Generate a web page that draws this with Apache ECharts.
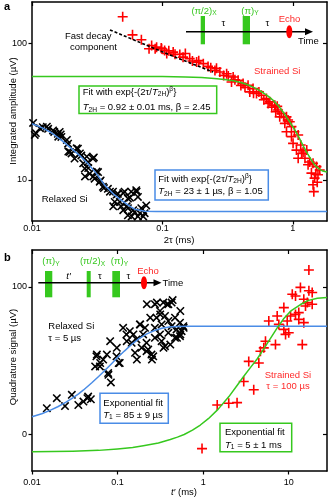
<!DOCTYPE html>
<html><head><meta charset="utf-8">
<script src="https://cdn.jsdelivr.net/npm/echarts@6/dist/echarts.min.js"></script>
<style>html,body{margin:0;padding:0;background:#fff}#c{width:335px;height:499px}</style>
</head><body><div id="c"></div>
<script>
// ---------- tick values ----------
const xTicksA = [0.01, 0.1, 1];
const yTicksA = [10, 100];
const xTicksB = [0.01, 0.1, 1, 10];
const yTicksB = [0, 100];

// ---------- panel a : spin-echo decay ----------
const strainedA = [[0.0496,156],[0.059,115],[0.069,106],[0.079,91],[0.0827,96],[0.088,91],[0.0903,93.5],[0.098,92],[0.0987,91],[0.104,88.5],[0.108,84],[0.112,88],[0.121,86],[0.125,83],[0.136,82.7],[0.144,79],[0.15,84],[0.162,77],[0.17,74],[0.183,72.7],[0.19,74.5],[0.206,70.8],[0.224,67.6],[0.235,66],[0.253,63.2],[0.26,65.5],[0.276,61.5],[0.295,58],[0.311,59.8],[0.32,57.5],[0.339,52],[0.349,56.5],[0.36,54],[0.381,53.5],[0.4,49],[0.416,50.6],[0.43,47.5],[0.454,49.2],[0.468,44],[0.496,46.5],[0.5,43],[0.527,42.8],[0.55,44],[0.575,41.6],[0.6,38.5],[0.628,39.4],[0.647,36.2],[0.667,37.2],[0.69,34],[0.728,35.2],[0.74,31.5],[0.76,34.5],[0.771,32.4],[0.794,28.9],[0.818,30.6],[0.85,29],[0.869,25.9],[0.895,28.9],[0.895,22.5],[0.92,27.4],[0.948,26.6],[0.977,24.5],[0.977,20.7],[1.005,18.5],[1.03,22.5],[1.067,16.5],[1.1,21.3],[1.1,14.4],[1.15,18],[1.17,15.6],[1.2,16],[1.24,14.4],[1.28,16.5],[1.31,12.9],[1.35,13.5],[1.39,11.2],[1.43,13.2],[1.43,9.2],[1.45,8.2],[1.47,10.3],[1.5,11],[1.52,12.5],[1.54,9.6],[1.56,10.9],[1.61,11.8]];
const relaxedA = [[0.0102,26.1],[0.0105,21.3],[0.0107,22],[0.0115,23.8],[0.0121,24.3],[0.013,24.5],[0.0133,23.6],[0.0145,23],[0.0148,22.4],[0.0158,21.7],[0.0159,20.7],[0.0163,22.4],[0.0166,21.5],[0.0168,20.6],[0.0185,19.6],[0.0189,18.4],[0.019,16.1],[0.0195,16],[0.0201,15.6],[0.0212,14.3],[0.022,17],[0.0225,16.9],[0.0233,15.6],[0.0239,15.1],[0.0247,13.2],[0.0254,12.1],[0.0255,10.6],[0.0263,14.8],[0.0269,13.5],[0.027,12.2],[0.0277,11.1],[0.0293,14.3],[0.0298,14.6],[0.0295,10.6],[0.0302,10.2],[0.0313,11.5],[0.0321,11.4],[0.0331,9.7],[0.0336,9.9],[0.035,8.9],[0.0356,8.7],[0.0382,8.6],[0.0396,8.2],[0.0418,8.2],[0.042,6.4],[0.0431,6.9],[0.0446,7.8],[0.0456,7.9],[0.0472,6.9],[0.0483,6.4],[0.0501,8],[0.0501,6],[0.0513,8.2],[0.0532,6.4],[0.0544,7.3],[0.0544,6.2],[0.0544,5.5],[0.0564,7.4],[0.0577,8.2],[0.0581,5.4],[0.0597,6],[0.0612,5.8],[0.063,8.4],[0.0634,8.2],[0.0649,7.5],[0.0649,5.4],[0.0673,5.7],[0.0689,6.2],[0.0713,5.4],[0.0731,5.7],[0.0752,6.5]];
const fitStrainedA = [[0.01,57],[0.1,57],[0.15,56.6],[0.2,56],[0.25,55.2],[0.3,54.2],[0.35,53],[0.4,51.5],[0.45,49.6],[0.5,47.5],[0.55,45.3],[0.6,43],[0.65,40.8],[0.7,38.5],[0.75,36],[0.8,33.5],[0.85,31],[0.9,28.5],[0.95,26.5],[1.0,24.5],[1.05,22.7],[1.1,21],[1.15,19.3],[1.2,17.8],[1.25,16.6],[1.3,15.5],[1.35,14.6],[1.4,13.8],[1.45,13.1],[1.5,12.6],[1.55,12.2],[1.6,12],[1.7,11.6],[1.83,11.4]];
const fitRelaxedA = [[0.01,25.7],[0.012,24],[0.014,22.2],[0.0168,19.5],[0.02,17],[0.0235,14.9],[0.0269,13.1],[0.031,11.2],[0.0361,9.15],[0.042,7.9],[0.0483,7.1],[0.055,6.5],[0.0612,6.1],[0.0731,5.9],[0.09,5.88],[1.83,5.88]];
const fastDecayA = [[0.0396,125],[0.114,82],[0.245,61.5]];

// ---------- panel b : recovery ----------
const relaxedB = [[0.0149,17.6],[0.0195,24.4],[0.0243,19.1],[0.0292,26.7],[0.0348,19.8],[0.0399,22.1],[0.0444,24.4],[0.0453,25.5],[0.0487,23.7],[0.0547,46],[0.0566,52.8],[0.0573,54],[0.0621,46],[0.0626,48.3],[0.0678,50.6],[0.075,54],[0.0776,41.5],[0.0782,40.3],[0.0819,63.1],[0.0835,35.1],[0.0971,52.8],[0.098,58.6],[0.103,48.3],[0.106,48.3],[0.116,72.2],[0.127,67.7],[0.128,63.1],[0.139,69.9],[0.146,62],[0.153,67.7],[0.16,55.2],[0.166,64.3],[0.168,50.6],[0.182,74.5],[0.184,74.5],[0.191,58.6],[0.199,67.7],[0.209,72.2],[0.218,62],[0.218,56.3],[0.22,88.2],[0.228,57.4],[0.241,79.1],[0.249,54],[0.252,50.6],[0.261,52.8],[0.273,88.2],[0.273,72.2],[0.273,65.4],[0.285,79.1],[0.288,89.3],[0.313,83.6],[0.313,67.7],[0.315,81.3],[0.327,74.5],[0.327,63.1],[0.342,89.3],[0.344,58.6],[0.358,80.2],[0.358,59.7],[0.378,88.2],[0.392,88.2],[0.392,76.8],[0.392,68.8],[0.413,60.8],[0.428,89.3],[0.428,73.3],[0.44,91],[0.469,79.1],[0.469,65.4],[0.489,71.1],[0.494,65.4],[0.536,75.7],[0.536,66.5],[0.541,83.6],[0.541,67.7],[0.56,69.9],[0.586,73.3],[0.592,72.2]];
const strainedB = [[0.97,-9.8],[1.46,19.8],[1.99,21],[2.49,21.4],[2.98,35.7],[3.41,49.4],[3.9,30.1],[4.47,48.3],[4.67,56.3],[5.11,58.6],[5.35,63.1],[5.85,76.8],[7.0,60.8],[7.33,80.2],[7.66,74.5],[8.77,85.9],[8.77,71.1],[9.18,67.7],[9.6,76.8],[10.0,68.8],[10.5,80.2],[11.0,95],[12.0,93.8],[12.0,81.3],[13.1,82.5],[13.1,77.9],[13.7,99.6],[14.4,60.8],[15.0,91.6],[15.0,75.7],[15.7,87],[16.5,89.3],[17.2,111.4],[17.2,97.3],[18.8,96.2],[18.8,88.2]];
const fitRelaxedB = [[0.01,11.8],[0.013,13.9],[0.016,16],[0.02,18.6],[0.025,21.7],[0.03,24.7],[0.035,27.4],[0.04,30],[0.05,34.9],[0.06,39.1],[0.07,42.9],[0.085,47.8],[0.1,52],[0.12,56.4],[0.15,61.5],[0.18,65],[0.22,68.1],[0.27,70.4],[0.33,71.9],[0.4,72.7],[0.5,73.1],[0.7,73.3],[28,73.3]];
const fitStrainedB = [[0.01,-12],[0.03,-11.6],[0.06,-11],[0.1,-10],[0.15,-9],[0.2,-7.8],[0.3,-6],[0.413,-3.6],[0.5,-2],[0.6,-0.2],[0.75,2.7],[0.927,6.2],[1.15,10.5],[1.5,17],[2.0,25.5],[2.49,33],[3.0,39.5],[3.6,45.5],[4.27,51],[5.0,57],[6.12,65],[7.3,72],[8.77,78.5],[10.5,83.5],[13.7,88],[17,90.8],[21.6,92.2],[28,92.8]];

const FONT = '"Liberation Sans", Arial, sans-serif';
const RED = '#ff0000', RED_T = '#ff2a2a', GREEN = '#36c81e', BLUE = '#4a8ce6';
const PLUS = 'path://M0,4.2H10V5.8H0Z M4.2,0H5.8V10H4.2Z';
const CROSS = 'path://M0,1.3L1.3,0L10,8.7L8.7,10Z M8.7,0L10,1.3L1.3,10L0,8.7Z';
const FS = 9.5;

function fmt(v){ return String(+(+v).toPrecision(3)); }
function xAx(grid, pos, type, min, max, ticks, margin){
  const main = pos === 'bottom';
  return {gridIndex:grid, type:type, position:pos, min:min, max:max, logBase:10,
    axisLine:{show:true, onZero:false, lineStyle:{color:'#000', width:1.5}},
    axisTick:{show:true, inside:!main, length:main?3.5:4, customValues:ticks, lineStyle:{color:'#000', width:1.2}},
    axisLabel:{show:main, customValues:ticks, formatter:fmt, fontSize:9, fontFamily:FONT, color:'#000', margin:margin},
    splitLine:{show:false}, minorTick:{show:false}};
}
function yAx(grid, pos, type, min, max, ticks){
  const main = pos === 'left';
  return {gridIndex:grid, type:type, position:pos, min:min, max:max, logBase:10,
    axisLine:{show:true, onZero:false, lineStyle:{color:'#000', width:1.5}},
    axisTick:{show:true, inside:!main, length:main?3.5:4, customValues:ticks, lineStyle:{color:'#000', width:1.2}},
    axisLabel:{show:main, customValues:ticks, formatter:fmt, fontSize:9, fontFamily:FONT, color:'#000', margin:5},
    splitLine:{show:false}, minorTick:{show:false}};
}
function scatter(data, xi, yi, sym, color, size){
  return {type:'scatter', data:data, xAxisIndex:xi, yAxisIndex:yi, symbol:sym, symbolSize:size,
    itemStyle:{color:color, opacity:1}, z:2, silent:true};
}
function line(data, xi, yi, color, dash){
  return {type:'line', data:data, xAxisIndex:xi, yAxisIndex:yi, showSymbol:false, symbol:'none',
    smooth:false, lineStyle:{color:color, width:dash?1.6:1.5, type:dash?[3,2]:'solid', join:'round'}, z:3, silent:true};
}

function T(x, y, text, o){
  o = o || {};
  const fs = o.size || FS, col = o.color || '#000';
  const rich = {
    i:{fontStyle:'italic', fontSize:fs, fontFamily:FONT, lineHeight:12, fill:col},
    sub:{fontSize:fs*0.7, fontFamily:FONT, verticalAlign:'bottom', lineHeight:6, fill:col},
    sup:{fontSize:fs*0.7, fontFamily:FONT, verticalAlign:'top', lineHeight:6, fill:col}
  };
  return {type:'text', x:x, y:y, z:10, rotation:o.rot||0, silent:true,
    style:{text:text, fill:col, fontSize:fs, fontWeight:o.bold?'bold':'normal',
      fontStyle:o.italic?'italic':'normal', fontFamily:FONT,
      align:o.align||'left', verticalAlign:'middle', lineHeight:12, rich:rich}};
}
function R(x, y, w, h, fill, stroke, lw){
  return {type:'rect', shape:{x:x, y:y, width:w, height:h}, z:5, silent:true,
    style:{fill:fill||'none', stroke:stroke||null, lineWidth:lw||0}};
}
function arrow(x1, x2, y){
  return [
    {type:'line', shape:{x1:x1, y1:y, x2:x2-6, y2:y}, z:6, style:{stroke:'#000', lineWidth:1.5}},
    {type:'polygon', shape:{points:[[x2-8,y-3.5],[x2,y],[x2-8,y+3.5]]}, z:6, style:{fill:'#000'}}
  ];
}
function echo(cx, cy){
  return {type:'ellipse', shape:{cx:cx, cy:cy, rx:3, ry:6.5}, z:7, style:{fill:RED}};
}

const graphics = [].concat(
  T(4, 7, 'a', {bold:true, size:11}),
  T(4, 258, 'b', {bold:true, size:11}),
  T(13, 111, 'Integrated amplitude (µV)', {align:'center', rot:Math.PI/2}),
  T(13, 357, 'Quadrature signal (µV)', {align:'center', rot:Math.PI/2}),
  T(179, 240, '2τ (ms)', {align:'center'}),
  T(184, 492.5, '{i|t′} (ms)', {align:'center'}),
  arrow(186, 313, 31.7),
  R(200.7, 16, 4.3, 28.3, GREEN),
  R(242.7, 16, 7.3, 28.3, GREEN),
  echo(289.3, 31.7),
  T(204, 11, '(π/2){sub|X}', {align:'center', color:GREEN}),
  T(250, 11, '(π){sub|Y}', {align:'center', color:GREEN}),
  T(223.5, 23.5, 'τ', {align:'center'}),
  T(267.5, 23.5, 'τ', {align:'center'}),
  T(289.5, 19.5, 'Echo', {align:'center', color:RED_T}),
  T(298, 41, 'Time', {}),
  T(65, 36.7, 'Fast decay', {}),
  T(70, 47.7, 'component', {}),
  T(254, 71.7, 'Strained Si', {color:RED_T}),
  T(41.7, 199.3, 'Relaxed Si', {}),
  R(79, 86, 137.7, 27.5, '#fff', GREEN, 1.5),
  T(82.7, 92, 'Fit with exp{-(2τ/{i|T}{sub|2H}){sup|β}}', {}),
  T(82.7, 107.3, '{i|T}{sub|2H} = 0.92 ± 0.01 ms, β = 2.45', {}),
  R(155, 170, 113.3, 30, '#fff', BLUE, 1.5),
  T(158.3, 179, 'Fit with exp{-(2τ/{i|T}{sub|2H}){sup|β}}', {}),
  T(158.3, 191.5, '{i|T}{sub|2H} = 23 ± 1 µs, β = 1.05', {}),
  arrow(38.3, 161.5, 282.7),
  R(45, 271, 7.3, 26.3, GREEN),
  R(86.7, 271, 4, 26.3, GREEN),
  R(112.3, 271, 7.7, 26.3, GREEN),
  echo(144, 282.7),
  T(51, 261.7, '(π){sub|Y}', {align:'center', color:GREEN}),
  T(92.5, 261.7, '(π/2){sub|X}', {align:'center', color:GREEN}),
  T(119.5, 261.7, '(π){sub|Y}', {align:'center', color:GREEN}),
  T(68.5, 276.7, 't′', {align:'center', italic:true}),
  T(100, 276.7, 'τ', {align:'center'}),
  T(128.5, 276.7, 'τ', {align:'center'}),
  T(148, 271.7, 'Echo', {align:'center', color:RED_T}),
  T(162.5, 283, 'Time', {}),
  T(48.3, 326.7, 'Relaxed Si', {}),
  T(48.3, 338.3, 'τ = 5 µs', {}),
  T(288, 375, 'Strained Si', {align:'center', color:RED_T}),
  T(288, 386.7, 'τ = 100 µs', {align:'center', color:RED_T}),
  R(100, 393.3, 68.3, 30, '#fff', BLUE, 1.5),
  T(103.3, 403.3, 'Exponential fit', {}),
  T(103.3, 415, '{i|T}{sub|1} = 85 ± 9 µs', {}),
  R(220, 423.3, 71.7, 28.4, '#fff', GREEN, 1.5),
  T(225, 432.3, 'Exponential fit', {}),
  T(225, 445, '{i|T}{sub|1} = 5 ± 1 ms', {})
);

const chart = echarts.init(document.getElementById('c'), null, {renderer:'canvas'});
chart.setOption({
  animation:false,
  backgroundColor:'#fff',
  grid:[{left:32, top:2, width:295, height:219}, {left:32, top:250, width:295, height:221}],
  xAxis:[
    xAx(0,'bottom','log',0.01,1.83,xTicksA,3),
    xAx(0,'top','log',0.01,1.83,xTicksA,3),
    xAx(1,'bottom','log',0.01,28,xTicksB,7),
    xAx(1,'top','log',0.01,28,xTicksB,7)
  ],
  yAxis:[
    yAx(0,'left','log',5,200,yTicksA),
    yAx(0,'right','log',5,200,yTicksA),
    yAx(1,'left','value',-25,125,yTicksB),
    yAx(1,'right','value',-25,125,yTicksB)
  ],
  series:[
    scatter(strainedA,0,0,PLUS,RED,10),
    scatter(relaxedA,0,0,CROSS,'#000',8.5),
    line(fitStrainedA,0,0,GREEN,false),
    line(fitRelaxedA,0,0,BLUE,false),
    line(fastDecayA,0,0,'#000',true),
    scatter(relaxedB,2,2,CROSS,'#000',8.5),
    scatter(strainedB,2,2,PLUS,RED,10),
    line(fitRelaxedB,2,2,BLUE,false),
    line(fitStrainedB,2,2,GREEN,false)
  ],
  graphic:graphics
});
</script></body></html>
